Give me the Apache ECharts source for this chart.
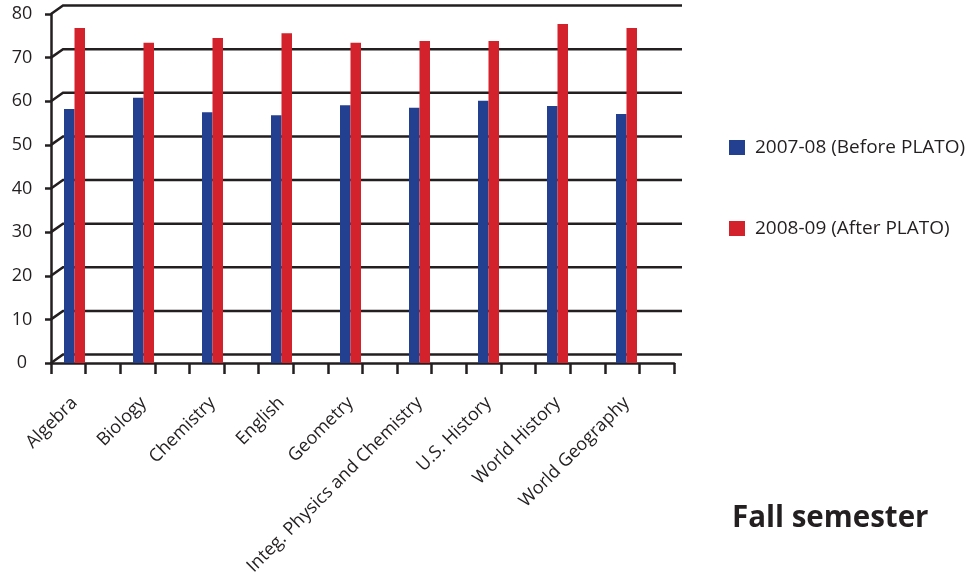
<!DOCTYPE html>
<html>
<head>
<meta charset="utf-8">
<script src="https://cdn.jsdelivr.net/npm/echarts@6/dist/echarts.min.js"></script>
<style>
html,body{margin:0;padding:0;background:#fff;}
#chart{width:976px;height:584px;}
</style>
</head>
<body>
<div id="chart"></div>
<script>
const categories = ['Algebra', 'Biology', 'Chemistry', 'English', 'Geometry', 'Integ. Physics and Chemistry', 'U.S. History', 'World History', 'World Geography'];
const before = [58.2, 60.8, 57.5, 56.8, 59.1, 58.5, 60.1, 58.9, 57.1];
const after = [76.8, 73.4, 74.5, 75.6, 73.4, 73.8, 73.8, 77.7, 76.8];
const yTicks = [0, 10, 20, 30, 40, 50, 60, 70, 80];
const seriesNames = ['2007-08 (Before PLATO)', '2008-09 (After PLATO)'];
const titleText = 'Fall semester';

const INK = '#231f20';
const FONT = '"Open Sans", Lato, sans-serif';
const halfSteps = categories.flatMap(() => ['', '']);

const chart = echarts.init(document.getElementById('chart'), null, {renderer: 'canvas'});
chart.setOption({
  animation: false,
  backgroundColor: '#fff',
  title: {
    text: titleText, left: 727, top: 499,
    textStyle: {fontFamily: FONT, fontSize: 29.5, fontWeight: 'bold', color: INK}
  },
  legend: {
    orient: 'vertical', left: 729, top: 138, padding: 0,
    itemWidth: 16, itemHeight: 15, itemGap: 62,
    icon: 'rect',
    data: seriesNames,
    textStyle: {fontFamily: FONT, fontSize: 19, color: INK, padding: [0, 0, 0, 5]}
  },
  grid: [
    {left: 40, top: 14, width: 621, height: 349},
    {left: 51, top: 14, width: 623, height: 349}
  ],
  xAxis: [
    {
      type: 'category', gridIndex: 0, data: categories,
      axisLine: {show: false}, axisTick: {show: false},
      axisLabel: {rotate: 45, margin: 37, interval: 0, fontFamily: FONT, fontSize: 18, color: INK}
    },
    {
      type: 'category', gridIndex: 1, data: halfSteps, boundaryGap: true,
      axisLine: {show: true, lineStyle: {color: INK, width: 2.5}},
      axisTick: {show: true, interval: 0, length: 11, lineStyle: {color: INK, width: 2.5}},
      axisLabel: {show: false}
    }
  ],
  yAxis: [
    {type: 'value', gridIndex: 0, min: 0, max: 80, interval: 10, show: false},
    {
      type: 'value', gridIndex: 1, min: 0, max: 80, interval: 10,
      axisLine: {show: true, lineStyle: {color: INK, width: 2.5}},
      axisTick: {show: true, length: 6, lineStyle: {color: INK, width: 2.5}},
      axisLabel: {fontFamily: FONT, fontSize: 18, color: INK, align: 'center', margin: 29},
      splitLine: {show: false}
    }
  ],
  series: [
    {
      type: 'custom', xAxisIndex: 1, yAxisIndex: 1, z: 1, silent: true,
      data: yTicks.map(v => [0, v]),
      renderItem: function (params, api) {
        const cs = params.coordSys;
        const y = api.coord([0, api.value(1)])[1];
        return {
          type: 'polyline',
          shape: {points: [[cs.x, y], [cs.x + 12, y - 8.5], [cs.x + cs.width + 8, y - 8.5]]},
          style: {stroke: INK, lineWidth: 2.5, fill: null}
        };
      }
    },
    {
      name: seriesNames[0], type: 'bar', xAxisIndex: 0, yAxisIndex: 0, z: 3,
      data: before, barWidth: 10.5, barGap: 0, itemStyle: {color: '#233f8f'}
    },
    {
      name: seriesNames[1], type: 'bar', xAxisIndex: 0, yAxisIndex: 0, z: 3,
      data: after, barWidth: 10.5, barGap: 0, itemStyle: {color: '#d3222b'}
    }
  ]
});
</script>
</body>
</html>
